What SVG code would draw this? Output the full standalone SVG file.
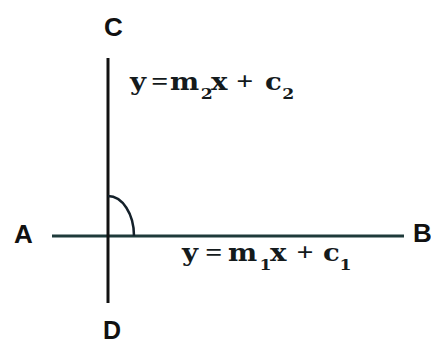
<svg xmlns="http://www.w3.org/2000/svg" width="431" height="341" viewBox="0 0 431 341">
<style>
.lbl{font-family:"Liberation Sans",Arial,sans-serif;font-weight:bold;font-size:26px;fill:#111}
.eq{font-family:"DejaVu Serif","Liberation Serif",serif;font-weight:bold;font-size:24px;fill:#141a1c}
.op{font-family:"Liberation Serif",serif;font-size:26px}
.sub{font-size:15px}
</style>
<rect width="431" height="341" fill="#fff"/>
<g id="connectors">
<line id="AB" x1="52" y1="236" x2="404" y2="236" stroke="#1e3a3a" stroke-width="3"/>
<line id="CD" x1="108" y1="58" x2="108" y2="303" stroke="#111" stroke-width="3"/>
<path id="angle" d="M108,196 A26,40 0 0 1 134,236" fill="none" stroke="#14202a" stroke-width="2.5"/>
</g>
<g id="A"><text class="lbl" x="14" y="243">A</text></g>
<g id="B"><text class="lbl" x="413" y="242">B</text></g>
<g id="C"><text class="lbl" x="104" y="36">C</text></g>
<g id="D"><text class="lbl" x="103" y="339" style="font-size:25px">D</text></g>
<g id="eqCD" transform="translate(130,90) scale(1.15,1)"><text class="eq" y="0"><tspan x="0">y</tspan><tspan class="op" x="18.5">=</tspan><tspan x="34.8">m</tspan><tspan class="sub" x="61.5" y="9">2</tspan><tspan x="70.4" y="0">x</tspan><tspan class="op" x="92.5">+</tspan><tspan x="117.4">c</tspan><tspan class="sub" x="132.5" y="9">2</tspan></text></g>
<g id="eqAB" transform="translate(182,261) scale(1.15,1)"><text class="eq" y="0"><tspan x="0">y</tspan><tspan class="op" x="20.2">=</tspan><tspan x="40">m</tspan><tspan class="sub" x="67.5" y="9">1</tspan><tspan x="76.5" y="0">x</tspan><tspan class="op" x="99.5">+</tspan><tspan x="122.6">c</tspan><tspan class="sub" x="137" y="9">1</tspan></text></g>
</svg>
